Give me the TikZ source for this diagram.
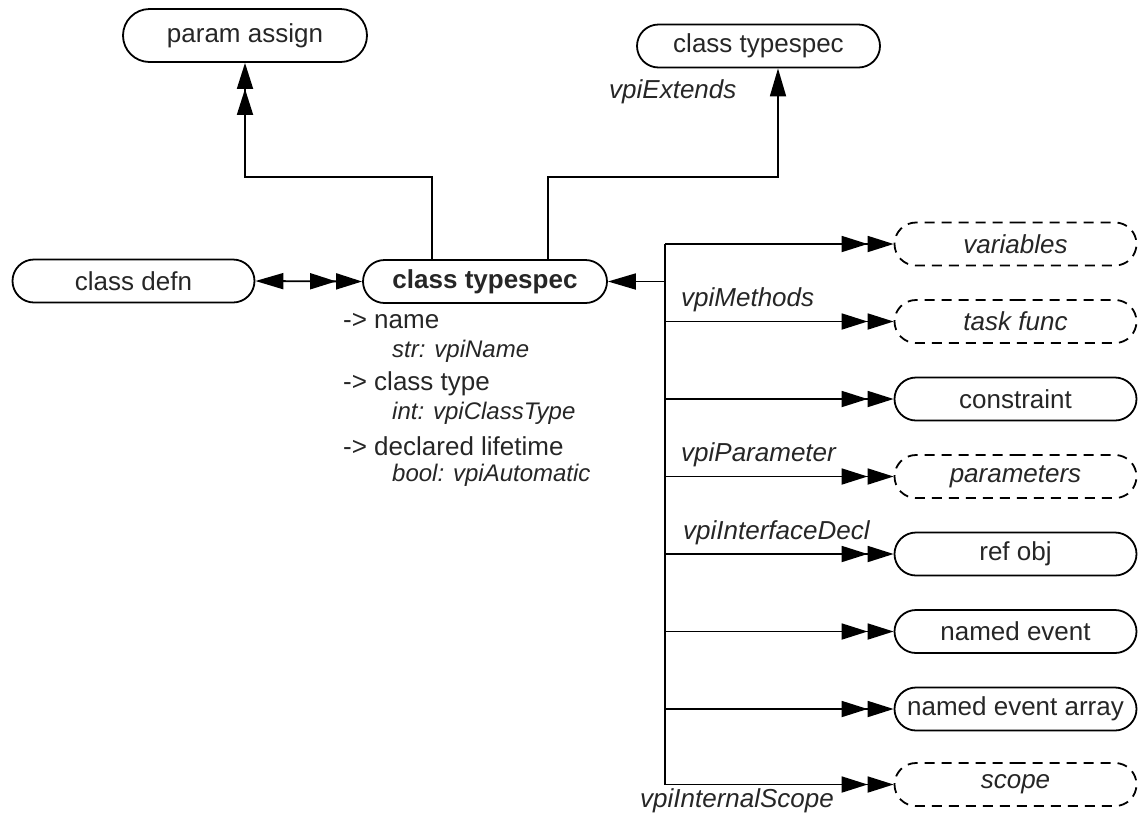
\documentclass[tikz,border=0pt]{standalone}
\usepackage{fontspec}
\setmainfont{Liberation Sans}
\usetikzlibrary{arrows.meta,shapes.misc}
\definecolor{txt}{HTML}{262626}
\tikzset{
  obj/.style={rounded rectangle, draw=black, line width=1.8pt, minimum width=242pt, minimum height=43pt, inner sep=0pt, text=txt, font=\fontsize{26}{30}\selectfont},
  grp/.style={obj, dash pattern=on 10pt off 7pt, font=\fontsize{26}{30}\selectfont\itshape},
  conn/.style={line width=1.8pt, draw=black},
  sgl/.style={conn, -{Triangle[length=28pt,width=16pt]}},
  dbl/.style={conn, -{Triangle[length=26pt,width=16pt,sep=0pt]Triangle[length=26pt,width=16pt]}},
  lr/.style={conn, {Triangle[length=28pt,width=16pt]}-{Triangle[length=26pt,width=16pt,sep=0pt]Triangle[length=26pt,width=16pt]}},
  lbl/.style={anchor=west, inner sep=0pt, text=txt, font=\fontsize{26}{30}\selectfont\itshape},
  prop/.style={anchor=west, inner sep=0pt, text=txt, font=\fontsize{26}{30}\selectfont},
  sub/.style={anchor=west, inner sep=0pt, text=txt, font=\fontsize{24}{28}\selectfont\itshape},
}
\begin{document}
\begin{tikzpicture}[x=1pt,y=-1pt]
\useasboundingbox (0,0) rectangle (1138,815);
% nodes
\node[obj, minimum height=53pt, minimum width=244pt] (pa) at (245,35.5) {param assign};
\node[obj, minimum width=243pt] (ct) at (758.5,46) {class typespec};
\node[obj] (cd) at (133.5,281) {class defn};
\node[obj, minimum width=244pt, font=\fontsize{26}{30}\selectfont\bfseries] (main) at (485,281.5) {class typespec};
\node[grp] (va) at (1015.5,244) {variables};
\node[grp] (tf) at (1015.5,321.5) {task func};
\node[obj] (co) at (1015.5,399) {constraint};
\node[grp] (pm) at (1015.5,476.5) {parameters};
\node[obj] (ro) at (1015.5,554) {ref obj};
\node[obj] (ne) at (1015.5,631.5) {named event};
\node[obj] (nea) at (1015.5,709) {named event array};
\node[grp] (sc) at (1015.5,784.5) {scope};
% properties
\node[prop] (p1) at (343,321) {-> name};
\node[sub] (s1) at (392,351) {str: vpiName};
\node[prop] (p2) at (343,384) {-> class type};
\node[sub] (s2) at (392,413) {int: vpiClassType};
\node[prop] (p3) at (343,446) {-> declared lifetime};
\node[sub] (s3) at (392,475) {bool: vpiAutomatic};
% labels
\node[lbl] (lext) at (609,92) {vpiExtends};
\node[lbl] (lmeth) at (681,300) {vpiMethods};
\node[lbl] (lpar) at (681,455) {vpiParameter};
\node[lbl] (lint) at (683,533) {vpiInterfaceDecl};
\node[lbl, anchor=base west] (lscope) at (640,807) {vpiInternalScope};
% helper coordinates
\coordinate (pax) at (432,0);
\coordinate (ctx) at (548,0);
\coordinate (cta) at (778,0);
\coordinate (topbend) at (0,177);
\coordinate (busx) at (665,0);
% connectors
\draw[dbl] (main.north -| pax) -- (pax |- topbend) -| (pa.south);
\draw[sgl] (main.north -| ctx) -- (ctx |- topbend) -| (ct.south -| cta);
\draw[lr] (cd.east) -- (main.west);
\draw[conn] (va.west -| busx) -- (sc.west -| busx);
\draw[sgl] (main.east -| busx) -- (main.east);
\foreach \n in {va,tf,co,pm,ro,ne,nea,sc}{
  \draw[dbl] (\n.west -| busx) -- (\n.west);
}
\end{tikzpicture}
\end{document}
